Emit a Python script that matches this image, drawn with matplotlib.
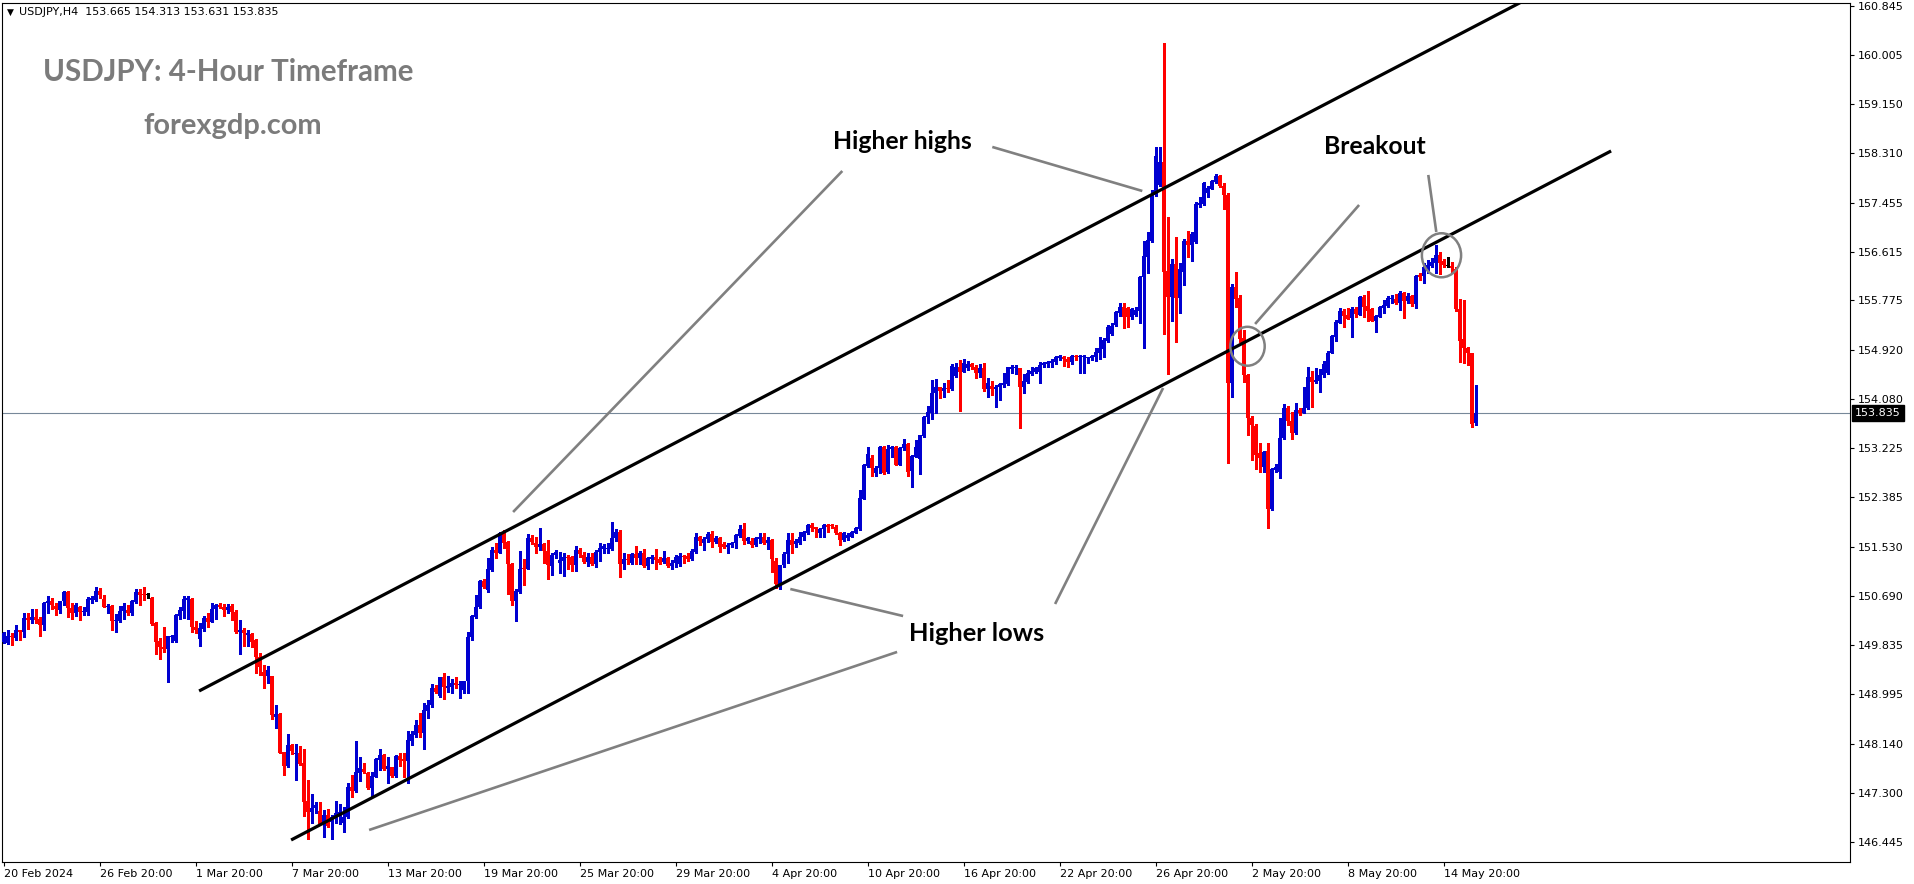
import numpy as np
import matplotlib
matplotlib.use("Agg")
import matplotlib.pyplot as plt
from matplotlib.patches import Ellipse
import matplotlib.transforms as mtransforms

# ---------------- data (USDJPY H4 candles) ----------------
opens = [
149.893,149.870,149.996,149.962,150.100,150.071,150.306,150.272,150.329,150.283,
150.180,150.559,150.593,150.513,150.444,150.593,150.760,150.473,150.398,150.490,
150.415,150.415,150.616,150.616,150.771,150.628,150.501,150.513,150.260,150.260,
150.421,150.444,150.387,150.582,150.754,150.720,150.702,150.651,150.226,149.916,
149.801,149.778,149.985,149.910,150.341,150.433,150.616,150.633,150.157,149.939,
150.111,150.300,150.243,150.455,150.530,150.501,150.444,150.513,150.415,150.071,
150.099,150.008,150.031,149.927,149.640,149.382,149.307,149.307,148.607,148.653,
148.004,147.757,148.119,147.964,147.976,147.803,147.155,146.971,147.028,146.988,
146.759,146.914,146.799,146.856,146.896,146.782,146.874,147.402,147.333,147.643,
147.700,147.643,147.373,147.573,147.860,147.946,147.711,147.734,147.585,147.929,
147.872,147.849,148.193,148.291,148.457,148.320,148.710,148.802,149.100,148.962,
149.284,149.100,149.123,149.181,149.146,149.066,149.215,149.973,150.329,150.489,
150.949,150.788,151.132,151.477,151.431,151.752,151.620,151.236,150.604,150.753,
151.167,151.149,151.677,151.603,151.523,151.580,151.465,151.201,151.390,151.259,
151.294,151.363,151.351,151.219,151.477,151.391,151.271,151.351,151.236,151.443,
151.489,151.495,151.495,151.678,151.793,151.236,151.322,151.248,151.409,151.334,
151.431,151.202,151.328,151.363,151.328,151.271,151.340,151.202,151.259,151.236,
151.374,151.374,151.317,151.443,151.696,151.604,151.667,151.753,151.621,151.678,
151.581,151.523,151.558,151.592,151.724,151.839,151.638,151.638,151.557,151.672,
151.695,151.603,151.649,151.293,150.891,151.213,151.408,151.649,151.580,151.603,
151.695,151.775,151.907,151.867,151.775,151.833,151.907,151.902,151.879,151.775,
151.649,151.678,151.706,151.775,151.833,152.361,152.923,153.061,152.808,152.883,
153.245,152.820,153.210,153.245,152.946,153.227,153.302,152.843,153.084,153.038,
153.440,153.761,153.842,154.175,154.279,154.221,154.261,154.244,154.474,154.634,
154.548,154.606,154.680,154.634,154.531,154.606,154.256,154.301,154.256,154.290,
154.324,154.336,154.600,154.611,154.611,154.290,154.370,154.508,154.548,154.548,
154.657,154.680,154.703,154.720,154.778,154.807,154.772,154.720,154.818,154.795,
154.795,154.778,154.778,154.807,154.875,154.933,155.082,155.197,155.351,155.552,
155.667,155.638,155.483,155.523,155.598,156.172,156.528,156.803,157.590,157.762,
158.158,156.287,155.839,156.402,155.810,156.269,156.803,156.729,156.786,157.412,
157.435,157.618,157.699,157.814,157.917,157.745,157.590,154.358,156.000,155.810,
155.121,154.490,153.744,153.612,153.141,152.900,153.187,152.177,152.854,152.825,
153.399,153.916,153.704,153.497,153.888,153.842,153.917,154.462,154.370,154.393,
154.485,154.520,154.875,155.151,155.392,155.599,155.524,155.467,155.622,155.530,
155.840,155.679,155.622,155.427,155.495,155.639,155.679,155.794,155.805,155.725,
155.909,155.771,155.851,155.714,156.213,156.196,156.328,156.368,156.414,156.557,
156.460,156.374,156.368,156.310,155.622,155.105,154.950,154.864,153.665]

highs = [
150.071,150.100,150.042,150.186,150.100,150.398,150.398,150.455,150.461,150.329,
150.587,150.685,150.651,150.559,150.593,150.765,150.771,150.559,150.559,150.513,
150.501,150.674,150.685,150.834,150.823,150.708,150.547,150.530,150.375,150.513,
150.570,150.530,150.616,150.800,150.800,150.840,150.731,150.674,150.243,149.956,
150.157,149.996,150.008,150.375,150.501,150.685,150.685,150.651,150.260,150.226,
150.340,150.398,150.559,150.547,150.559,150.547,150.547,150.547,150.444,150.272,
150.128,150.099,150.042,149.939,149.698,149.497,149.479,149.307,148.808,148.664,
148.004,148.309,148.136,148.136,148.102,148.044,147.516,147.275,147.143,147.143,
147.000,147.011,146.914,147.155,147.103,147.057,147.459,147.602,148.194,147.918,
147.803,147.660,147.660,147.889,148.044,147.964,147.918,147.746,147.941,147.987,
147.975,148.366,148.366,148.549,148.675,148.836,148.894,149.169,149.152,149.295,
149.353,149.307,149.249,149.295,149.227,149.221,150.070,150.357,150.702,150.960,
150.971,151.339,151.534,151.591,151.792,151.821,151.637,151.258,150.799,151.465,
151.316,151.752,151.735,151.706,151.850,151.603,151.649,151.419,151.477,151.449,
151.431,151.391,151.374,151.546,151.506,151.449,151.420,151.431,151.477,151.604,
151.581,151.592,151.965,151.833,151.822,151.420,151.409,151.431,151.546,151.454,
151.489,151.351,151.391,151.489,151.351,151.466,151.363,151.305,151.386,151.420,
151.391,151.420,151.489,151.776,151.718,151.707,151.793,151.805,151.718,151.696,
151.621,151.592,151.621,151.753,151.908,151.948,151.706,151.678,151.706,151.764,
151.775,151.706,151.660,151.333,151.213,151.448,151.764,151.764,151.660,151.792,
151.810,151.919,151.936,151.879,151.850,151.925,151.919,151.925,151.902,151.792,
151.792,151.775,151.798,151.867,152.510,152.958,153.245,153.113,152.923,153.268,
153.268,153.285,153.268,153.268,153.256,153.382,153.314,153.113,153.371,153.463,
153.784,153.956,154.405,154.416,154.290,154.359,154.405,154.680,154.692,154.749,
154.761,154.738,154.703,154.663,154.680,154.692,154.433,154.393,154.319,154.359,
154.520,154.634,154.663,154.657,154.611,154.508,154.577,154.634,154.634,154.720,
154.720,154.738,154.761,154.818,154.841,154.818,154.795,154.835,154.835,154.841,
154.835,154.807,154.841,154.956,155.151,155.122,155.352,155.381,155.598,155.736,
155.736,155.667,155.638,155.667,156.195,156.803,156.958,157.676,158.411,158.411,
160.201,157.217,156.482,156.872,156.413,156.826,156.976,156.958,157.475,157.561,
157.819,157.745,157.848,157.951,157.934,157.791,157.618,156.057,156.269,155.868,
155.265,154.507,153.784,153.646,153.313,153.187,153.313,152.883,152.958,153.744,
153.991,153.956,153.859,154.014,153.917,154.290,154.634,154.566,154.606,154.588,
154.738,154.910,155.180,155.438,155.639,155.622,155.639,155.668,155.656,155.851,
155.868,155.943,155.639,155.524,155.679,155.782,155.851,155.868,155.886,155.943,
155.926,155.897,155.868,156.213,156.242,156.425,156.471,156.500,156.729,156.615,
156.483,156.517,156.442,156.356,155.794,155.782,154.979,154.875,154.313]

lows = [
149.881,149.859,149.847,149.927,149.927,149.985,150.123,150.214,150.214,149.996,
150.100,150.398,150.467,150.358,150.398,150.524,150.329,150.283,150.341,150.272,
150.358,150.358,150.570,150.605,150.645,150.490,150.398,150.100,150.071,150.237,
150.283,150.358,150.358,150.570,150.524,150.616,150.645,150.191,149.686,149.606,
149.721,149.210,149.893,149.899,150.295,150.300,150.295,150.071,150.053,149.824,
150.088,150.157,150.243,150.289,150.472,150.340,150.386,150.272,150.042,149.686,
149.824,149.824,149.812,149.353,149.324,149.095,149.192,148.561,148.406,147.976,
147.602,147.746,147.964,147.516,147.775,146.896,146.495,146.770,146.954,146.759,
146.541,146.713,146.495,146.770,146.759,146.627,146.856,147.229,147.315,147.505,
147.643,147.356,147.229,147.562,147.688,147.688,147.459,147.573,147.573,147.757,
147.573,147.459,148.119,148.262,148.251,148.044,148.578,148.779,149.008,148.951,
148.905,149.037,149.008,149.094,148.922,149.020,149.008,149.927,150.300,150.472,
150.816,150.759,151.121,151.333,151.419,151.505,150.719,150.529,150.260,150.742,
150.874,151.144,151.580,151.431,151.477,151.247,150.983,151.046,151.333,151.076,
151.030,151.156,151.122,151.122,151.351,151.248,151.202,151.219,151.190,151.294,
151.431,151.431,151.477,151.638,151.018,151.156,151.236,151.236,151.236,151.236,
151.190,151.144,151.259,151.144,151.236,151.248,151.190,151.144,151.190,151.202,
151.248,151.294,151.305,151.431,151.558,151.477,151.621,151.535,151.592,151.443,
151.512,151.431,151.523,151.506,151.707,151.581,151.603,151.523,151.546,151.592,
151.580,151.488,151.104,150.817,150.799,151.190,151.259,151.419,151.523,151.580,
151.649,151.752,151.810,151.706,151.706,151.706,151.792,151.850,151.752,151.557,
151.638,151.649,151.695,151.764,151.821,152.349,152.912,152.751,152.751,152.797,
152.785,152.808,153.073,152.935,152.935,153.199,152.751,152.567,153.073,152.786,
153.428,153.669,153.739,153.842,154.089,154.106,154.204,154.233,154.451,153.877,
154.542,154.577,154.588,154.433,154.462,154.221,154.118,154.146,153.934,154.060,
154.290,154.319,154.520,154.508,153.572,154.187,154.359,154.491,154.531,154.347,
154.623,154.634,154.634,154.680,154.749,154.646,154.634,154.680,154.749,154.531,
154.531,154.703,154.749,154.738,154.761,154.807,155.065,155.180,155.334,155.506,
155.294,155.322,155.449,155.506,155.380,154.949,156.241,156.786,157.572,157.745,
155.196,154.507,155.426,155.064,155.563,156.040,156.528,156.459,156.769,157.389,
157.417,157.561,157.687,157.802,157.733,157.343,152.980,154.117,155.667,155.064,
154.375,153.457,153.026,152.866,152.825,152.825,151.850,152.165,152.825,152.711,
153.382,153.629,153.382,153.474,153.802,153.831,153.900,153.946,154.347,154.204,
154.462,154.508,154.864,155.082,155.381,155.323,155.449,155.140,155.484,155.518,
155.495,155.427,155.415,155.237,155.484,155.553,155.656,155.725,155.714,155.610,
155.467,155.736,155.679,155.639,156.127,156.081,156.242,156.345,156.242,156.230,
156.356,156.356,156.270,155.599,154.720,154.703,154.663,153.590,153.631]

closes = [
150.054,149.996,149.973,150.100,150.071,150.300,150.272,150.329,150.272,150.180,
150.570,150.605,150.524,150.455,150.593,150.754,150.473,150.398,150.536,150.415,
150.433,150.628,150.651,150.771,150.697,150.501,150.519,150.260,150.272,150.421,
150.513,150.387,150.593,150.754,150.708,150.697,150.702,150.203,149.899,149.801,
149.778,149.996,149.996,150.358,150.444,150.628,150.651,150.145,150.099,150.140,
150.312,150.243,150.455,150.530,150.501,150.444,150.501,150.415,150.071,150.099,
150.053,150.042,149.898,149.640,149.468,149.307,149.411,148.636,148.653,147.987,
147.757,148.119,148.022,147.987,147.792,147.143,146.971,147.028,147.086,146.759,
146.914,146.724,146.885,146.942,146.965,146.885,147.402,147.333,147.654,147.717,
147.660,147.373,147.585,147.872,147.946,147.700,147.757,147.585,147.929,147.860,
147.849,148.205,148.308,148.457,148.320,148.721,148.802,149.100,149.031,149.284,
149.112,149.135,149.181,149.152,149.158,149.215,149.984,150.340,150.489,150.949,
150.834,151.144,151.477,151.431,151.775,151.603,151.236,150.604,150.765,151.155,
151.149,151.677,151.614,151.523,151.580,151.465,151.218,151.390,151.448,151.305,
151.363,151.345,151.219,151.477,151.403,151.276,151.351,151.236,151.449,151.506,
151.546,151.512,151.678,151.787,151.236,151.317,151.305,151.409,151.334,151.431,
151.202,151.340,151.363,151.305,151.259,151.340,151.202,151.259,151.351,151.374,
151.351,151.317,151.454,151.696,151.638,151.673,151.753,151.621,151.678,151.535,
151.535,151.563,151.604,151.736,151.839,151.638,151.678,151.557,151.678,151.695,
151.603,151.649,151.316,150.891,151.213,151.408,151.649,151.569,151.638,151.706,
151.787,151.902,151.861,151.833,151.844,151.907,151.879,151.890,151.764,151.649,
151.775,151.735,151.792,151.850,152.372,152.940,153.130,152.883,152.895,153.245,
152.808,153.222,153.245,152.946,153.227,153.302,152.826,153.095,153.245,153.451,
153.761,153.859,154.187,154.290,154.221,154.261,154.244,154.646,154.634,154.548,
154.692,154.680,154.623,154.531,154.606,154.244,154.347,154.256,154.290,154.336,
154.359,154.623,154.634,154.623,154.290,154.382,154.520,154.566,154.617,154.669,
154.703,154.715,154.738,154.795,154.824,154.761,154.720,154.818,154.795,154.807,
154.818,154.789,154.824,154.887,154.950,155.094,155.323,155.335,155.581,155.667,
155.483,155.483,155.621,155.609,156.183,156.539,156.815,157.607,158.261,158.158,
156.269,155.839,156.402,155.810,156.310,156.803,156.729,156.918,157.435,157.446,
157.802,157.710,157.837,157.917,157.745,157.584,154.347,156.011,155.793,155.104,
154.490,153.744,153.629,153.112,153.055,153.170,152.177,152.866,152.900,153.399,
153.916,153.704,153.497,153.887,153.842,153.917,154.462,154.376,154.405,154.491,
154.680,154.875,155.162,155.404,155.599,155.507,155.461,155.622,155.541,155.840,
155.668,155.599,155.427,155.507,155.656,155.696,155.811,155.817,155.725,155.909,
155.771,155.851,155.714,156.196,156.184,156.345,156.385,156.437,156.557,156.425,
156.385,156.374,156.328,155.622,155.082,154.950,154.864,153.647,153.835]

price_ticks = [160.845, 160.005, 159.150, 158.310, 157.455, 156.615, 155.775, 154.920,
               154.080, 153.225, 152.385, 151.530, 150.690, 149.835, 148.995, 148.140,
               147.300, 146.445]
date_pos = [0, 24, 48, 72, 96, 120, 144, 168, 192, 216, 240, 264, 288, 312, 336, 360]
date_labels = ["20 Feb 2024", "26 Feb 20:00", "1 Mar 20:00", "7 Mar 20:00", "13 Mar 20:00",
               "19 Mar 20:00", "25 Mar 20:00", "29 Mar 20:00", "4 Apr 20:00", "10 Apr 20:00",
               "16 Apr 20:00", "22 Apr 20:00", "26 Apr 20:00", "2 May 20:00", "8 May 20:00",
               "14 May 20:00"]
last_price = 153.835
header = "USDJPY,H4  153.665 154.313 153.631 153.835"

# trend channel lines (bar index, price)
upper_x = [48.9, 380.0]
upper_y = [149.049, 160.932]
lower_x = [71.9, 401.9]
lower_y = [146.483, 158.348]

# grey pointer lines (bar index, price)
pointer_lines = [
    ([209.7, 127.4], [158.003, 152.131]),
    ([247.2, 284.7], [158.417, 157.659]),
    ([338.9, 312.9], [157.418, 155.369]),
    ([356.2, 358.2], [157.935, 156.953]),
    ([223.4, 91.4], [149.721, 146.655]),
    ([224.9, 196.7], [150.340, 150.805]),
    ([262.9, 289.9], [150.547, 154.267]),
]
# circles: (center bar, center price, width bars, height price)
circles = [(311.0, 154.985, 8.6, 0.67), (359.5, 156.552, 9.8, 0.758)]
# annotation labels: (text, bar, price baseline)
labels = [("Higher highs", 224.7, 158.382, 140),
          ("Breakout", 342.9, 158.296, 102),
          ("Higher lows", 243.4, 149.910, 136)]

# ---------------- figure ----------------
W, H, DPI = 1914, 884, 100
fig = plt.figure(figsize=(W / DPI, H / DPI), dpi=DPI, facecolor="white")
ax = fig.add_axes([2 / W, 22 / H, 1848 / W, 859 / H])
ax.set_facecolor("white")

o = np.array(opens); h = np.array(highs); l = np.array(lows); c = np.array(closes)
x = np.arange(len(c))
bull = "#0000d0"; bear = "#ff0000"
cols = np.where(c > o, bull, np.where(c < o, bear, "#000000"))

ax.vlines(x, l, h, colors=cols, linewidth=0.75, antialiased=False, zorder=2)
body_h = np.maximum(np.abs(c - o), 0.0172)
body_b = np.minimum(o, c)
ax.bar(x, body_h, bottom=body_b, width=0.75, color=cols, linewidth=0,
       antialiased=False, zorder=3)

ax.set_xlim(-0.375, -0.375 + 1848 / 4)
ax.set_ylim(146.104, 160.896)

# current price line
ax.axhline(last_price, color="#778899", lw=0.8, zorder=1)

# channel lines
ax.plot(upper_x, upper_y, color="black", lw=2.3, zorder=4, solid_capstyle="butt")
ax.plot(lower_x, lower_y, color="black", lw=2.3, zorder=4, solid_capstyle="butt")

for xs, ys in pointer_lines:
    ax.plot(xs, ys, color="#808080", lw=1.9, zorder=4, solid_capstyle="butt")
for cx, cy, cw, chh in circles:
    ax.add_patch(Ellipse((cx, cy), cw, chh, fill=False, edgecolor="#808080", lw=1.8, zorder=5))

renderer = fig.canvas.get_renderer()

def fit(t, target):
    bb = t.get_window_extent(renderer)
    t.set_fontsize(t.get_fontsize() * target / bb.width)

for s, bx, by, tw in labels:
    t = ax.text(bx, by, s, ha="center", va="baseline", fontsize=16, fontweight="bold",
                family=["Lato", "DejaVu Sans"], color="black", zorder=6)
    fit(t, tw)

# axes styling
for sp in ax.spines.values():
    sp.set_color("black"); sp.set_linewidth(0.8)
ax.yaxis.tick_right()
ax.set_yticks(price_ticks)
ax.set_yticklabels([f"{p:.3f}" for p in price_ticks])
ax.tick_params(axis="y", which="both", right=True, left=False, direction="out",
               length=3, width=0.8, pad=2.5, labelsize=8, colors="black")
ax.set_xticks(date_pos)
ax.set_xticklabels(date_labels, ha="left")
ax.tick_params(axis="x", direction="out", length=3, width=0.8, pad=2, labelsize=8,
               colors="black")

# current price box
trans = mtransforms.blended_transform_factory(ax.transAxes, ax.transData)
ax.text(1.0 + 5 / 1848, last_price, f"{last_price:.3f}", transform=trans, ha="left",
        va="center", fontsize=8, color="white", clip_on=False, zorder=10,
        bbox=dict(boxstyle="square,pad=0.25", facecolor="black", edgecolor="black"))

# header and watermark texts (screen-fixed)
fig.text(7 / W, 1 - 15 / H, "\u25bc", fontsize=6.5, ha="left", va="baseline", color="black")
fig.text(19 / W, 1 - 15 / H, header, fontsize=8, ha="left", va="baseline", color="black")
t1 = fig.text(228.5 / W, 1 - 81 / H, "USDJPY: 4-Hour Timeframe", ha="center", va="baseline",
              fontsize=20, fontweight="bold", family=["Lato", "DejaVu Sans"], color="#7b7b7b")
fit(t1, 371)
t2 = fig.text(232.5 / W, 1 - 134 / H, "forexgdp.com", ha="center", va="baseline",
              fontsize=20, fontweight="bold", family=["Lato", "DejaVu Sans"], color="#7b7b7b")
fit(t2, 179)

fig.savefig("out.png", dpi=DPI, facecolor="white")
